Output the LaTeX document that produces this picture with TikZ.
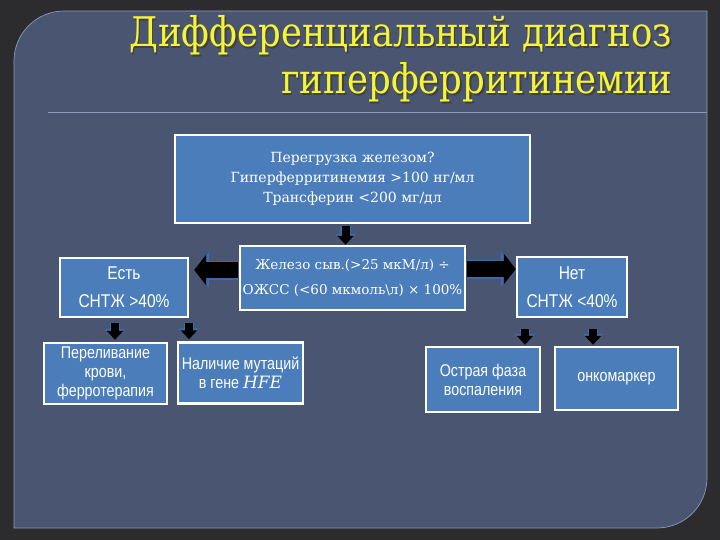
\documentclass[tikz,border=0pt]{standalone}
\usepackage{fontspec}
\setmainfont{DejaVu Serif}
\newfontfamily\titlefont{DejaVu Serif}
\newfontfamily\narrowsans[FakeStretch=0.84]{Liberation Sans}
\usetikzlibrary{arrows.meta}
\definecolor{framecol}{HTML}{2C2C2E}
\definecolor{panelcol}{HTML}{4A5571}
\definecolor{edgecol}{HTML}{8A9AB8}
\definecolor{boxblue}{HTML}{4A7DBA}
\definecolor{titleyellow}{HTML}{F5F535}
\definecolor{arrowblue}{HTML}{3D6AA8}
\tikzset{
  box/.style={draw=white, line width=2.4pt, fill=boxblue, text=white, align=center, inner sep=2pt},
  serifbox/.style={box, font=\fontsize{14}{20}\selectfont},
  sansbox/.style={box, font=\narrowsans\fontsize{17}{19}\selectfont},
  bigarrow/.style={draw=black, line width=16pt, -{Triangle[width=30pt,length=12pt]},
    preaction={draw=arrowblue, line width=19pt, -{Triangle[width=35pt,length=15pt]}}},
  smallarrow/.style={draw=black, line width=8pt, -{Triangle[width=16pt,length=9pt]},
    preaction={draw=arrowblue, line width=10.5pt, -{Triangle[width=20pt,length=11pt]}}},
  titletext/.style={text=titleyellow, font=\titlefont\fontsize{35.5}{40}\selectfont, inner sep=0pt}
}
\begin{document}
\begin{tikzpicture}[x=1pt,y=-1pt]
\useasboundingbox (0,0) rectangle (720,540);
\fill[framecol] (0,0) rectangle (720,540);
\fill[panelcol] (14,528) -- (14,61) arc[start angle=180,end angle=270,radius=50] -- (707,11) -- (707,478) arc[start angle=0,end angle=90,radius=50] -- cycle;
\draw[edgecol, line width=0.7pt] (14,528) -- (14,61) arc[start angle=180,end angle=270,radius=50] -- (707,11) -- (707,478) arc[start angle=0,end angle=90,radius=50] -- cycle;
\draw[edgecol, line width=1pt] (48,113) -- (707,113);
% title
\node[titletext, anchor=base east, text=black!75] (t1s) at (673.5,48.5) {\scalebox{1}[1.15]{Дифференциальный диагноз}};
\node[titletext, anchor=base east] (t1) at (672,47) {\scalebox{1}[1.15]{Дифференциальный диагноз}};
\node[titletext, anchor=base east, text=black!75] (t2s) at (673.5,95.5) {\scalebox{1}[1.15]{гиперферритинемии}};
\node[titletext, anchor=base east] (t2) at (672,94) {\scalebox{1}[1.15]{гиперферритинемии}};
% boxes
\node[serifbox, minimum width=355pt, minimum height=88pt] (top) at (352.5,179) {Перегрузка железом?\\Гиперферритинемия >100 нг/мл\\Трансферин <200 мг/дл};
\node[serifbox, minimum width=225pt, minimum height=64pt, font=\fontsize{13.5}{25}\selectfont] (mid) at (352.5,278) {Железо сыв.(>25 мкМ/л) ÷\\ОЖСС (<60 мкмоль\textbackslash л) × 100\%};
\node[sansbox, minimum width=128pt, minimum height=59pt, font=\narrowsans\fontsize{18.5}{28}\selectfont] (yes) at (124,287.5) {Есть\\СНТЖ >40\%};
\node[sansbox, minimum width=110pt, minimum height=60pt, font=\narrowsans\fontsize{18.5}{28}\selectfont] (no) at (572,287) {Нет\\СНТЖ <40\%};
\node[sansbox, minimum width=123pt, minimum height=61pt] (trans) at (105.5,373.5) {Переливание\\крови,\\ферротерапия};
\node[sansbox, minimum width=125pt, minimum height=61pt] (hfe) at (240.5,373) {Наличие мутаций\\в гене {\rmfamily\itshape HFE}};
\node[sansbox, minimum width=114pt, minimum height=65pt] (acute) at (483,379.5) {Острая фаза\\воспаления};
\node[sansbox, minimum width=123pt, minimum height=63pt] (onco) at (616.5,378.5) {онкомаркер};
% arrows
\draw[smallarrow, shorten <=2pt] ([xshift=-7pt]top.south) -- ([xshift=-7pt]top.south |- mid.north);
\draw[bigarrow, shorten <=1pt, shorten >=5pt] ([yshift=8pt]mid.west) -- ([yshift=8pt]mid.west -| yes.east);
\draw[bigarrow, shorten <=1pt] ([yshift=9pt]mid.east) -- ([yshift=9pt]mid.east -| no.west);
\draw[smallarrow, shorten <=5pt, shorten >=2pt] ([xshift=-9pt]yes.south) -- ([xshift=-9pt]yes.south |- trans.north);
\draw[smallarrow, shorten <=5pt, shorten >=2pt] ([xshift=65pt]yes.south) -- ([xshift=65pt]yes.south |- hfe.north);
\draw[smallarrow, shorten <=11pt, shorten >=1pt] ([xshift=-47pt]no.south) -- ([xshift=-47pt]no.south |- acute.north);
\draw[smallarrow, shorten <=11pt, shorten >=1pt] ([xshift=21pt]no.south) -- ([xshift=21pt]no.south |- onco.north);
\end{tikzpicture}
\end{document}
